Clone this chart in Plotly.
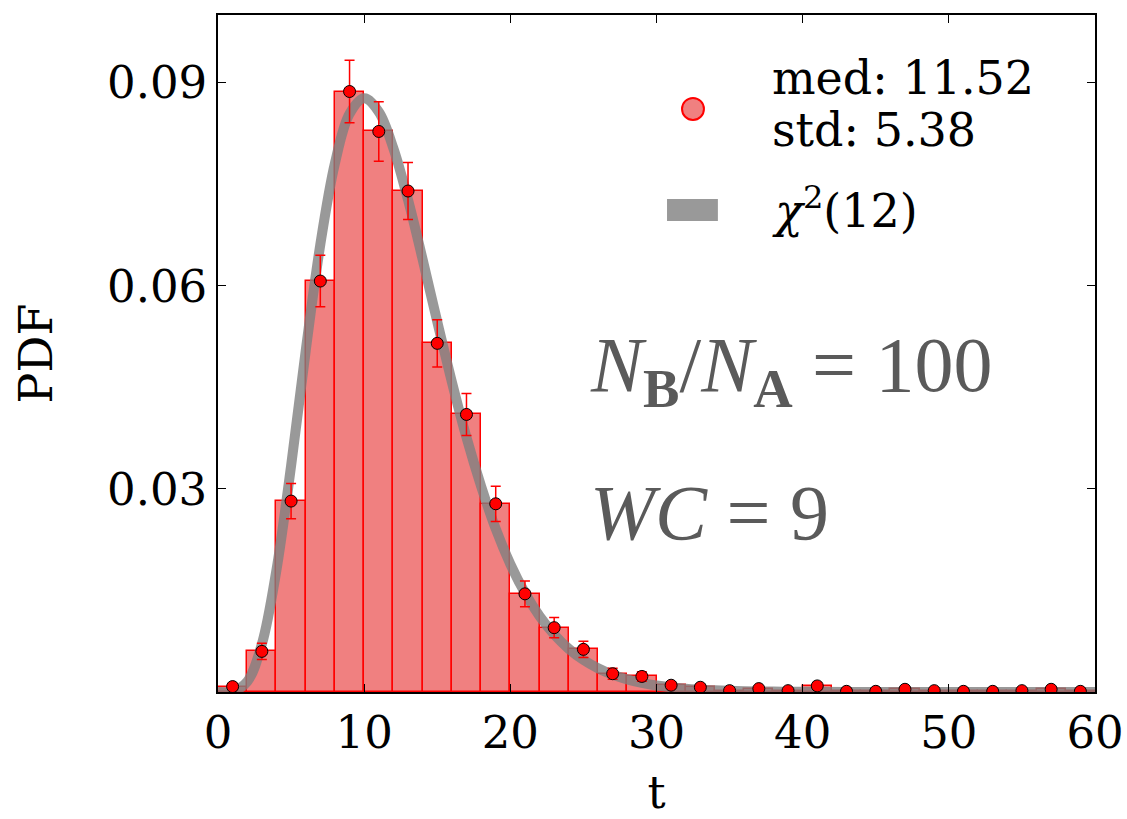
import plotly.graph_objects as go

# Histogram bin centres (bin width 2) and read PDF values
t_centers = [1, 3, 5, 7, 9, 11, 13, 15, 17, 19, 21, 23, 25, 27, 29,
             31, 33, 35, 37, 39, 41, 43, 45, 47, 49, 51, 53, 55, 57, 59]
pdf_vals = [0.0008, 0.0060, 0.0282, 0.0607, 0.0887, 0.0828, 0.0740, 0.0515,
            0.0410, 0.0278, 0.0145, 0.0095, 0.0063, 0.0027, 0.0023,
            0.0010, 0.0007, 0.0002, 0.0005, 0.0002, 0.0009, 0.0001, 0.0001,
            0.0004, 0.0002, 0.0001, 0.0001, 0.0002, 0.0004, 0.0001]
pdf_err = [0.0004, 0.0012, 0.0026, 0.0038, 0.0046, 0.0044, 0.0042, 0.0035,
           0.0031, 0.0026, 0.0019, 0.0015, 0.0012, 0.0008, 0.0007,
           0.0005, 0.0004, 0.0002, 0.0003, 0.0002, 0.0005, 0.0002, 0.0002,
           0.0003, 0.0002, 0.0002, 0.0002, 0.0002, 0.0003, 0.0002]

# chi^2(12) reference curve
t_curve = [0, 1, 2, 3, 4, 5, 6, 7, 8, 9, 10, 11, 12, 13, 14, 15, 16, 17, 18,
           19, 20, 21, 22, 23, 24, 25, 26, 27, 28, 29, 30, 32, 34, 36, 38,
           40, 45, 50, 55, 60]
pdf_curve = [0.0, 0.00008, 0.00153, 0.00706, 0.01804, 0.0334, 0.0504, 0.0661,
             0.0781, 0.0854, 0.0877, 0.0857, 0.0803, 0.0727, 0.0639, 0.0547,
             0.0458, 0.0376, 0.0304, 0.0241, 0.0189, 0.01464, 0.01121,
             0.00849, 0.00637, 0.00474, 0.00350, 0.00256, 0.00186, 0.00135,
             0.00097, 0.00049, 0.00025, 0.00012, 0.00006, 0.00003, 0.0,
             0.0, 0.0, 0.0]

x_ticks = [0, 10, 20, 30, 40, 50, 60]
y_ticks = [0.03, 0.06, 0.09]
y_tick_labels = ["0.03", "0.06", "0.09"]

legend_stats = ["med: 11.52", "std: 5.38"]
legend_curve = "<i>χ</i><sup>2</sup>(12)"

SERIF = "DejaVu Serif"
TIMES = "Liberation Serif, Times New Roman, Times, serif"

fig = go.Figure()

fig.add_trace(go.Bar(
    x=t_centers, y=pdf_vals, width=2,
    marker=dict(color="rgba(240,128,128,1)", line=dict(color="red", width=1.5)),
    showlegend=False, hoverinfo="skip"))

fig.add_trace(go.Scatter(
    x=t_curve, y=pdf_curve, mode="lines", line_shape="spline",
    line=dict(color="rgba(128,128,128,0.8)", width=10),
    name="χ²(12)", showlegend=False))

fig.add_trace(go.Scatter(
    x=t_centers, y=pdf_vals, mode="markers",
    marker=dict(color="red", size=12, line=dict(color="black", width=1)),
    error_y=dict(type="data", array=pdf_err, color="red", thickness=1.5, width=5),
    name=legend_stats[0] + " " + legend_stats[1], showlegend=False))

# ---- legend (drawn as keys + text, matplotlib style) ----
fig.add_shape(type="circle", xref="paper", yref="paper",
              x0=0.5416 - 0.0125, x1=0.5416 + 0.0125,
              y0=0.8612 - 0.0163, y1=0.8612 + 0.0163,
              fillcolor="rgba(240,128,128,1)", line=dict(color="red", width=2))
fig.add_shape(type="rect", xref="paper", yref="paper",
              x0=0.512, x1=0.570, y0=0.6957, y1=0.7282,
              fillcolor="#999999", line=dict(width=0))
for txt, yy in zip(legend_stats + [legend_curve], [0.9069, 0.830, 0.715]):
    fig.add_annotation(x=0.6294, y=yy, xref="paper", yref="paper",
                       xanchor="left", yanchor="middle", text=txt, showarrow=False,
                       font=dict(family=SERIF, size=46, color="black"))

fig.add_annotation(x=25.3, y=0.0475, xref="x", yref="y", xanchor="left", yanchor="middle",
                   text="<i>N</i><sub><b>B</b></sub>/<i>N</i><sub><b>A</b></sub> = 100",
                   showarrow=False, font=dict(family=TIMES, size=78, color="#5a5a5a"))
fig.add_annotation(x=25.3, y=0.0265, xref="x", yref="y", xanchor="left", yanchor="middle",
                   text="<i>WC</i> = 9",
                   showarrow=False, font=dict(family=TIMES, size=78, color="#5a5a5a"))

axis_common = dict(showline=True, linecolor="black", linewidth=1.5, mirror="ticks",
                   ticks="inside", ticklen=8, tickwidth=1, tickcolor="black",
                   showgrid=False, zeroline=False, automargin=False,
                   tickfont=dict(family=SERIF, size=45, color="black"))

fig.update_layout(
    width=1127, height=819,
    margin=dict(l=218, r=32, t=15, b=127),
    paper_bgcolor="white", plot_bgcolor="white",
    bargap=0, barmode="overlay", showlegend=False,
    xaxis=dict(range=[0, 60], tickvals=x_ticks,
               title=dict(text="t", font=dict(family=SERIF, size=45, color="black"), standoff=51),
               **axis_common),
    yaxis=dict(range=[0, 0.1], tickvals=y_ticks, ticktext=y_tick_labels,
               title=dict(text="PDF", font=dict(family=SERIF, size=46, color="black"), standoff=40),
               **axis_common),
)

fig.write_html("out.html")
